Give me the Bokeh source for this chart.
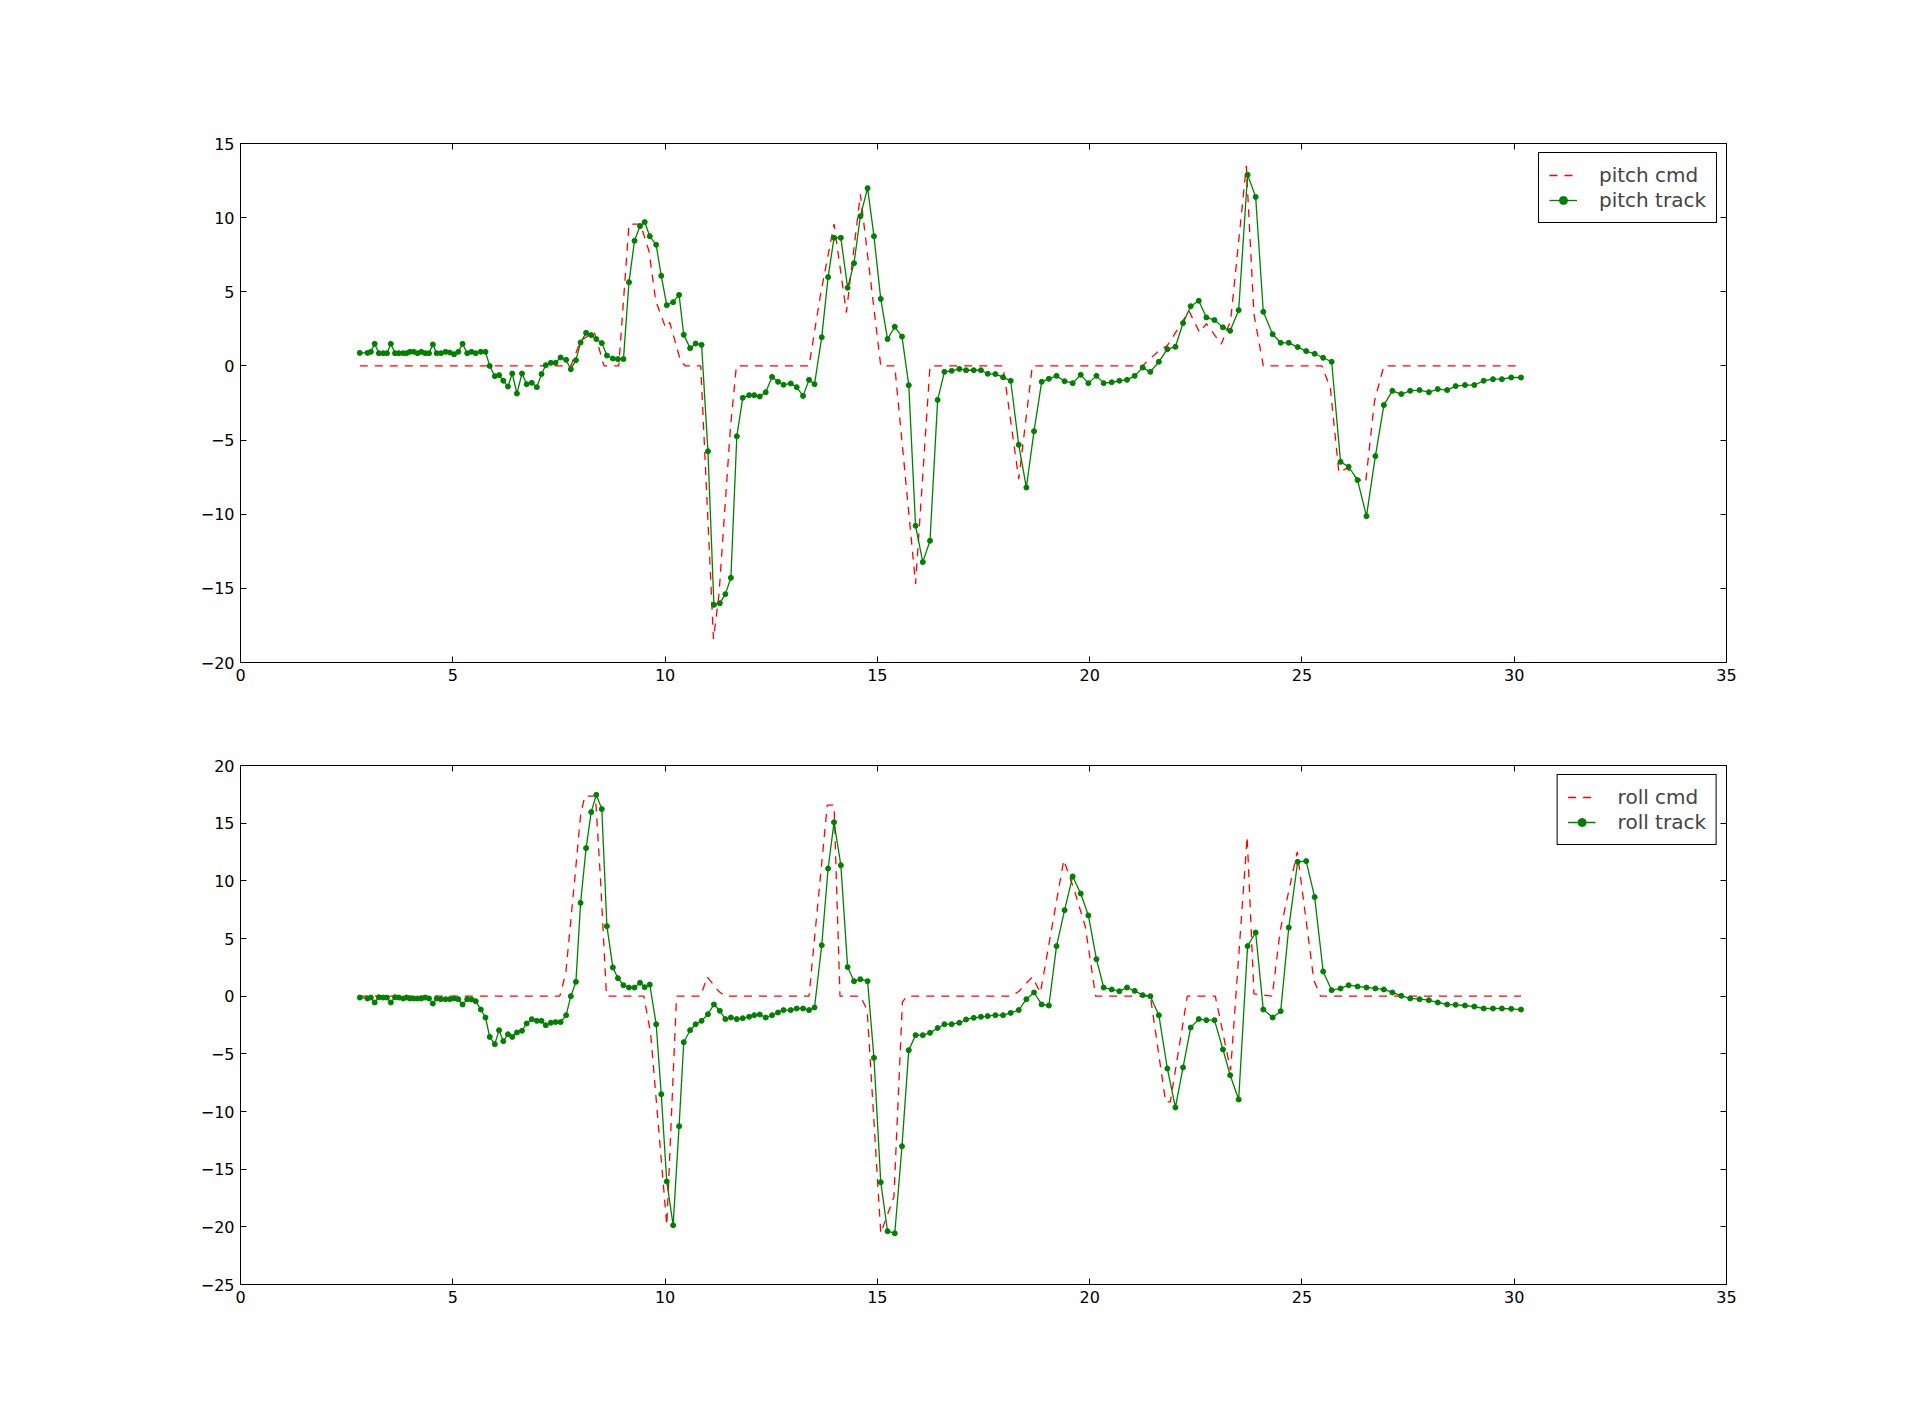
from bokeh.plotting import figure
from bokeh.models import Range1d, LinearAxis, FixedTicker, CustomJSTickFormatter
from bokeh.layouts import column
from bokeh.embed import file_html
from bokeh.resources import INLINE

# sample times of the tracked signals (s)
t = [
    2.81, 2.99, 3.07, 3.16, 3.26, 3.36, 3.45, 3.54, 3.64, 3.73,
    3.83, 3.91, 3.99, 4.08, 4.17, 4.26, 4.35, 4.44, 4.53, 4.62,
    4.72, 4.83, 4.93, 5.03, 5.13, 5.23, 5.34, 5.44, 5.54, 5.66,
    5.77, 5.87, 5.99, 6.09, 6.19, 6.30, 6.40, 6.51, 6.63, 6.74,
    6.86, 6.98, 7.09, 7.19, 7.31, 7.42, 7.54, 7.67, 7.78, 7.90,
    8.01, 8.14, 8.26, 8.38, 8.51, 8.63, 8.77, 8.89, 9.02, 9.15,
    9.28, 9.41, 9.52, 9.64,
    9.79, 9.91, 10.04, 10.19, 10.33, 10.44, 10.59, 10.72, 10.86, 11.01,
    11.15, 11.29, 11.42, 11.55, 11.69, 11.83, 11.98, 12.10, 12.23, 12.37,
    12.52, 12.66, 12.79, 12.96, 13.10, 13.25, 13.39, 13.52, 13.69, 13.84,
    13.98, 14.14, 14.30, 14.45, 14.60, 14.77, 14.92, 15.08, 15.24, 15.41,
    15.58, 15.74, 15.90, 16.07, 16.24, 16.42,
    16.58, 16.75, 16.93, 17.09, 17.27, 17.44, 17.60, 17.78, 17.96, 18.14,
    18.33, 18.51, 18.69, 18.87, 19.04, 19.22, 19.41, 19.60, 19.79, 19.97,
    20.16, 20.33, 20.52, 20.70, 20.88, 21.06, 21.25, 21.43, 21.63, 21.83,
    22.02, 22.20, 22.38, 22.57, 22.75, 22.94, 23.14, 23.31,
    23.51, 23.72, 23.91, 24.09, 24.31, 24.50, 24.69, 24.90, 25.10, 25.30,
    25.50, 25.70, 25.91, 26.10, 26.31, 26.52, 26.73, 26.93, 27.13, 27.34,
    27.55, 27.77, 27.99, 28.20, 28.42, 28.62, 28.84, 29.06, 29.28, 29.50,
    29.71, 29.93, 30.16,
]

pitch_track = [
    0.88, 0.88, 0.95, 1.49, 0.86, 0.86, 0.86, 1.49, 0.86, 0.86,
    0.86, 0.86, 0.95, 0.95, 0.86, 0.95, 0.86, 0.86, 1.45, 0.86,
    0.86, 0.95, 0.90, 0.79, 0.95, 1.49, 0.86, 0.95, 0.86, 0.95,
    0.95, 0.00, -0.69, -0.62, -1.00, -1.39, -0.51, -1.86, -0.51, -1.23,
    -1.14, -1.43, -0.55, 0.05, 0.21, 0.21, 0.57, 0.41, -0.22, 0.39,
    1.58, 2.23, 2.08, 1.81, 1.54, 0.70, 0.50, 0.46, 0.46, 5.65,
    8.44, 9.43, 9.70, 8.75,
    8.17, 6.08, 4.10, 4.30, 4.79, 2.10, 1.20, 1.51, 1.42, -5.75,
    -16.11, -16.00, -15.39, -14.29, -4.74, -2.15, -1.97, -1.97, -2.06, -1.77,
    -0.74, -1.07, -1.27, -1.18, -1.43, -2.02, -0.94, -1.23, 1.94, 5.99,
    8.64, 8.64, 5.27, 6.93, 10.10, 11.99, 8.75, 4.52, 1.81, 2.64,
    1.98, -1.30, -10.78, -13.23, -11.79, -2.29,
    -0.40, -0.33, -0.20, -0.29, -0.29, -0.29, -0.53, -0.55, -0.76, -1.00,
    -5.32, -8.20, -4.40, -1.07, -0.87, -0.67, -1.03, -1.16, -0.60, -1.16,
    -0.67, -1.16, -1.10, -1.00, -0.94, -0.67, -0.11, -0.40, 0.28, 1.13,
    1.29, 2.89, 4.03, 4.39, 3.27, 3.09, 2.60, 2.37,
    3.76, 12.89, 11.40, 3.65, 2.14, 1.56, 1.56, 1.27, 1.00, 0.82,
    0.55, 0.28, -6.47, -6.80, -7.70, -10.13, -6.08, -2.64, -1.68, -1.90,
    -1.68, -1.63, -1.77, -1.56, -1.63, -1.36, -1.29, -1.29, -1.00, -0.89,
    -0.89, -0.78, -0.78,
]

roll_track = [
    -0.12, -0.20, -0.12, -0.55, -0.09, -0.12, -0.12, -0.55, -0.09, -0.12,
    -0.20, -0.12, -0.20, -0.20, -0.20, -0.20, -0.12, -0.20, -0.64, -0.20,
    -0.26, -0.26, -0.26, -0.20, -0.26, -0.72, -0.26, -0.29, -0.43, -1.16,
    -1.85, -3.53, -4.16, -2.95, -3.90, -3.30, -3.53, -3.15, -3.00, -2.37,
    -2.00, -2.14, -2.14, -2.52, -2.31, -2.25, -2.25, -1.65, 0.00, 1.24,
    8.09, 12.84, 15.96, 17.46, 16.22, 6.07, 2.49, 1.56, 0.95, 0.75,
    0.75, 1.16, 0.78, 1.01,
    -2.43, -8.50, -16.07, -19.86, -11.27, -3.99, -2.95, -2.43, -2.14, -1.56,
    -0.72, -1.27, -1.99, -1.85, -1.99, -1.91, -1.79, -1.65, -1.59, -1.85,
    -1.65, -1.42, -1.21, -1.21, -1.07, -1.07, -1.21, -0.98, 4.42, 11.07,
    15.09, 11.36, 2.52, 1.30, 1.47, 1.30, -5.35, -16.13, -20.38, -20.56,
    -13.01, -4.68, -3.38, -3.38, -3.18, -2.76,
    -2.43, -2.43, -2.31, -2.02, -1.88, -1.79, -1.73, -1.65, -1.65, -1.45,
    -1.21, -0.26, 0.32, -0.72, -0.81, 4.34, 7.46, 10.38, 8.90, 7.00,
    3.21, 0.75, 0.58, 0.43, 0.75, 0.46, 0.09, 0.00, -1.65, -6.27,
    -9.65, -6.18, -2.72, -1.99, -2.08, -2.08, -4.62, -6.85,
    -8.96, 4.34, 5.52, -1.16, -1.85, -1.30, 5.95, 11.65, 11.71, 8.59,
    2.14, 0.52, 0.67, 0.95, 0.84, 0.75, 0.67, 0.58, 0.32, 0.03,
    -0.20, -0.26, -0.35, -0.55, -0.72, -0.75, -0.81, -0.90, -1.07, -1.07,
    -1.07, -1.10, -1.16,
]

# commanded values (vertices of the dashed lines)
pitch_cmd_t = [2.81, 7.78, 8.01, 8.33, 8.44, 8.56, 8.91, 9.15, 9.42, 9.62,
               9.78, 10.01, 10.11, 10.37, 10.48, 10.84, 11.14, 11.27, 11.54, 11.68,
               13.39, 13.66, 13.98, 14.27, 14.60, 15.08, 15.41, 15.90, 16.24, 17.96,
               18.33, 18.65, 21.24, 21.63, 21.83, 22.34, 22.59, 22.75, 23.10, 23.32,
               23.69, 23.87, 24.09, 25.47, 25.67, 25.87, 26.06, 26.30, 26.50, 26.71,
               26.93, 30.16]
pitch_cmd = [0, 0, 1.69, 2.3, 1.24, 0, 0, 9.56, 9.56, 7.76,
             4.39, 2.59, 2.93, 0.3, 0, 0, -18.42, -15.4, -4.15, 0,
             0, 4.8, 9.56, 3.6, 11.58, 0, 0, -14.7, 0, 0,
             -7.63, 0, 0, 1.02, 1.37, 3.7, 2.25, 2.86, 1.47, 3.04,
             13.49, 3.49, 0, 0, -1.5, -7.19, -6.9, -7.6, -7.86, -2.35,
             0, 0]

roll_cmd_t = [2.81, 7.52, 7.66, 7.87, 8.01, 8.11, 8.36, 8.48, 8.62, 9.50,
              9.66, 10.04, 10.27, 10.84, 10.99, 11.27, 11.42, 13.39, 13.82, 13.98,
              14.12, 14.60, 14.76, 15.08, 15.39, 15.59, 15.70, 18.14, 18.33, 18.65,
              18.84, 19.39, 19.63, 19.90, 20.14, 21.43, 21.79, 21.90, 22.30, 22.96,
              23.32, 23.71, 23.87, 24.30, 24.49, 24.89, 25.28, 25.44, 30.16]
roll_cmd = [0, 0, 1.97, 10.06, 15.7, 17.35, 17.35, 10.06, 0, 0,
            -3.24, -19.86, 0, 0, 1.68, 0.4, 0, 0, 16.57, 16.57,
            0, 0, -1.2, -20.56, -17.4, -0.5, 0, 0, 0.4, 1.67,
            0.3, 11.8, 9.3, 6.0, 0, 0, -9.17, -9.17, 0, 0,
            -6.42, 13.82, 0.2, 0, 5.72, 12.52, 1.39, 0, 0]

x_ticks = [0, 5, 10, 15, 20, 25, 30, 35]
pitch_ticks = [-20, -15, -10, -5, 0, 5, 10, 15]
roll_ticks = [-25, -20, -15, -10, -5, 0, 5, 10, 15, 20]

FONT = "DejaVu Sans"
minus_fmt = "return tick < 0 ? '\\u2212' + (-tick) : '' + tick;"


def style_axis(ax, ticks, labels=True):
    ax.ticker = FixedTicker(ticks=ticks)
    ax.major_tick_in = 6
    ax.major_tick_out = 0
    ax.minor_tick_line_color = None
    ax.axis_line_color = "black"
    ax.major_tick_line_color = "black"
    ax.major_label_text_font = FONT
    ax.major_label_text_font_size = "16px"
    ax.major_label_text_color = "black"
    ax.major_label_standoff = 6
    if labels:
        ax.formatter = CustomJSTickFormatter(code=minus_fmt)
    else:
        ax.formatter = CustomJSTickFormatter(code="return '';")


def make_panel(track, cmd_t, cmd, name, y_ticks, border_top, border_bottom):
    p = figure(frame_width=1486, frame_height=519,
               min_border_left=240, min_border_right=176,
               min_border_top=border_top, min_border_bottom=border_bottom,
               x_range=Range1d(0, 35), y_range=Range1d(y_ticks[0], y_ticks[-1]),
               output_backend="svg", toolbar_location=None)
    p.xgrid.grid_line_color = None
    p.ygrid.grid_line_color = None
    p.outline_line_color = "black"
    p.outline_line_alpha = 1
    p.outline_line_width = 1
    p.background_fill_color = "white"
    p.border_fill_color = "white"

    style_axis(p.xaxis[0], x_ticks)
    style_axis(p.yaxis[0], y_ticks)
    top_ax = LinearAxis()
    right_ax = LinearAxis()
    style_axis(top_ax, x_ticks, labels=False)
    style_axis(right_ax, y_ticks, labels=False)
    p.add_layout(top_ax, "above")
    p.add_layout(right_ax, "right")

    p.line(cmd_t, cmd, line_color="#ff0000", line_width=1.3, line_dash="8 7",
           legend_label=name + " cmd")
    p.line(t, track, line_color="#008000", line_width=1.3, legend_label=name + " track")
    p.scatter(t, track, size=5, fill_color="#008000", line_color="#008000",
              legend_label=name + " track")

    p.legend.location = "top_right"
    p.legend.margin = 9
    p.legend.border_line_color = "black"
    p.legend.border_line_width = 1
    p.legend.border_line_alpha = 1
    p.legend.background_fill_alpha = 1
    p.legend.label_text_font = FONT
    p.legend.label_text_font_size = "20px"
    p.legend.glyph_width = 28
    p.legend.glyph_height = 20
    p.legend.label_standoff = 22
    p.legend.padding = 10
    p.legend.spacing = 1
    return p


p1 = make_panel(pitch_track, pitch_cmd_t, pitch_cmd, "pitch", pitch_ticks, 143, 51)
p2 = make_panel(roll_track, roll_cmd_t, roll_cmd, "roll", roll_ticks, 52, 127)

layout = column(p1, p2)
open("out.html", "w").write(file_html(layout, INLINE))
